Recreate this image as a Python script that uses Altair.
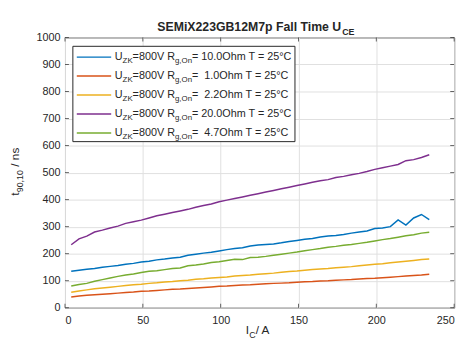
import altair as alt
import pandas as pd

# ---------------- data ----------------
ic = [4, 9, 14, 19, 24, 29, 34, 39, 44, 49, 54, 59, 64, 69, 74, 79, 84, 89, 94, 99,
      104, 109, 114, 119, 124, 129, 134, 139, 144, 149, 154, 159, 164, 169, 174, 179,
      184, 189, 194, 199, 204, 209, 214, 219, 224, 229, 234]

rg_10 = [135, 139, 142, 145, 150, 153, 156, 161, 164, 169, 172, 177, 180, 184, 187, 194,
         198, 202, 205, 210, 215, 219, 222, 228, 232, 234, 236, 240, 245, 249, 253, 256,
         262, 265, 267, 271, 276, 280, 284, 293, 295, 300, 325, 306, 332, 345, 326]
rg_1 = [40, 43, 46, 48, 50, 52, 54, 56, 58, 61, 62, 64, 66, 68, 69, 71, 73, 75, 77, 79,
        80, 82, 84, 85, 87, 89, 90, 91, 92, 94, 96, 97, 99, 100, 102, 103, 104, 106, 108,
        109, 111, 113, 115, 117, 119, 121, 124]
rg_2_2 = [57, 62, 66, 70, 73, 76, 79, 82, 85, 87, 90, 92, 95, 97, 100, 102, 105, 107, 110,
          112, 114, 117, 119, 121, 124, 126, 128, 131, 134, 136, 139, 141, 143, 145, 148,
          150, 152, 155, 158, 161, 163, 166, 169, 172, 175, 178, 180]
rg_20 = [233, 255, 265, 280, 287, 295, 302, 312, 318, 324, 332, 340, 346, 352, 358, 364,
         372, 378, 384, 392, 398, 404, 410, 416, 422, 428, 434, 440, 446, 452, 458, 464,
         470, 474, 482, 486, 492, 497, 504, 512, 518, 524, 530, 544, 548, 556, 566]
rg_4_7 = [80, 86, 90, 98, 104, 110, 116, 121, 125, 130, 135, 137, 141, 145, 147, 155, 158,
          162, 167, 170, 175, 179, 178, 186, 187, 190, 194, 198, 202, 206, 211, 215, 219,
          224, 227, 231, 234, 238, 242, 247, 252, 256, 261, 266, 270, 276, 279]

series_names = ["10.0", "1.0", "2.2", "20.0", "4.7"]
series_values = [rg_10, rg_1, rg_2_2, rg_20, rg_4_7]
series_colors = ["#0072BD", "#D95319", "#EDB120", "#7E2F8E", "#77AC30"]
legend_rg = ["\u00a010.0", "\u00a0\u00a01.0", "\u00a0\u00a02.2", "\u00a020.0", "\u00a0\u00a04.7"]

x_ticks = [0, 50, 100, 150, 200, 250]
y_ticks = [0, 100, 200, 300, 400, 500, 600, 700, 800, 900, 1000]

W, H = 396, 275
FONT = "Liberation Sans"
TXT = "#262626"

rows = []
for name, vals in zip(series_names, series_values):
    for xv, yv in zip(ic, vals):
        rows.append({"I": xv, "t": yv, "s": name})
df = pd.DataFrame(rows)

xs = alt.Scale(domain=[0, 250], nice=False)
ys = alt.Scale(domain=[0, 1000], nice=False)
xax = alt.Axis(values=x_ticks, title=None, format="d", labelOverlap=False)
yax = alt.Axis(values=y_ticks, title=None, format="d", labelOverlap=False)

lines = alt.Chart(df).mark_line(strokeWidth=1.5).encode(
    x=alt.X("I:Q", scale=xs, axis=xax),
    y=alt.Y("t:Q", scale=ys, axis=yax),
    color=alt.Color("s:N", scale=alt.Scale(domain=series_names, range=series_colors), legend=None),
    order=alt.Order("I:Q"),
)

# inward ticks on all four sides
xt = pd.DataFrame({"v": x_ticks})
yt = pd.DataFrame({"v": y_ticks})
tick_layers = []
for yy in [H - 2, 2]:
    tick_layers.append(alt.Chart(xt).mark_tick(orient="vertical", size=4, thickness=1, color=TXT).encode(
        x=alt.X("v:Q", scale=xs, axis=xax), y=alt.value(yy)))
for xx in [2, W - 2]:
    tick_layers.append(alt.Chart(yt).mark_tick(orient="horizontal", size=4, thickness=1, color=TXT).encode(
        y=alt.Y("v:Q", scale=ys, axis=yax), x=alt.value(xx)))

one = pd.DataFrame({"d": [0]})

def txt(s, x, y, size, align="left", baseline="middle", bold=False, angle=0):
    return alt.Chart(one).mark_text(
        text=s, font=FONT, fontSize=size, align=align, baseline=baseline,
        fontWeight="bold" if bold else "normal", color=TXT, angle=angle,
    ).encode(x=alt.value(x), y=alt.value(y))

# legend
leg = [alt.Chart(one).mark_rect(fill="white", stroke=TXT, strokeWidth=1).encode(
    x=alt.value(8), x2=alt.value(234), y=alt.value(9), y2=alt.value(106))]
for i, (c, rg) in enumerate(zip(series_colors, legend_rg)):
    yy = 20 + 19.3 * i
    leg.append(alt.Chart(one).mark_rule(color=c, strokeWidth=1.5).encode(
        x=alt.value(12), x2=alt.value(47), y=alt.value(yy)))
    leg.append(txt("U", 50.7, yy, 11))
    leg.append(txt("ZK", 58.6, yy + 4, 8))
    leg.append(txt("=800V R", 68.8, yy, 11))
    leg.append(txt("g,On", 111.9, yy + 4, 8))
    leg.append(txt("=" + rg + "Ohm T = 25°C", 129.2, yy, 11))

# titles
titles = [
    txt("SEMiX223GB12M7p Fall Time U", 281, -7, 12.5, align="right", baseline="alphabetic", bold=True),
    txt("CE", 282, -3, 9, align="left", baseline="alphabetic", bold=True),
    txt("I", 184, 302, 12, baseline="alphabetic"),
    txt("C", 187.5, 306, 9, baseline="alphabetic"),
    txt(" / A", 194, 302, 12, baseline="alphabetic"),
    txt("t", -47, 161, 12, baseline="alphabetic", angle=270),
    txt("90,10", -43, 157.5, 9, baseline="alphabetic", angle=270),
    txt("/ ns", -47, 131.5, 12, baseline="alphabetic", angle=270),
]

chart = alt.layer(lines, *tick_layers, *leg, *titles).properties(
    width=W, height=H,
    autosize=alt.AutoSizeParams(type="none"),
    padding={"left": 58, "top": 27, "right": 9, "bottom": 37},
).configure_view(stroke=TXT, strokeWidth=1).configure_axis(
    grid=True, gridColor="#dfdfdf", gridWidth=1, ticks=False, domain=False,
    labelFont=FONT, labelFontSize=11, labelColor=TXT,
).configure_axisX(labelPadding=7).configure_axisY(labelPadding=5)

chart.save("out.html", embed_options={"renderer": "svg", "actions": False})
